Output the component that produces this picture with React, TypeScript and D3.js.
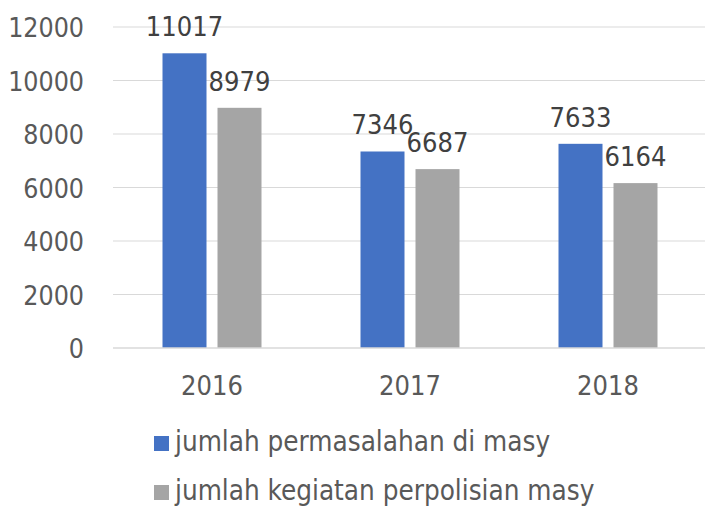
import React from 'react';
import * as d3 from 'd3';

const years = ['2016', '2017', '2018'];
const permasalahan = [11017, 7346, 7633];
const kegiatan = [8979, 6687, 6164];
const seriesNames = ['jumlah permasalahan di masy', 'jumlah kegiatan perpolisian masy'];
const seriesColors = ['#4472c4', '#a5a5a5'];
const yTicks = [0, 2000, 4000, 6000, 8000, 10000, 12000];

const W = 705;
const H = 506;
const font = '"DejaVu Sans Condensed", "DejaVu Sans", sans-serif';
const textColor = '#595959';
const fs = 27;

export default function App() {
  const x = d3.scaleBand().domain(years).range([113, 707]);
  const y = d3.scaleLinear().domain([0, 12000]).range([348, 27]);
  const barW = 44;
  const gap = 11;
  const series = [permasalahan, kegiatan];

  return (
    <svg width={W} height={H} style={{ position: 'absolute', left: 0, top: 0 }} fontFamily={font}>
      <rect width={W} height={H} fill="#fff" />
      {yTicks.map(t => (
        <g key={t}>
          {t > 0 && <line x1={113} x2={705} y1={y(t)} y2={y(t)} stroke="#d9d9d9" strokeWidth={1} />}
          <text x={84} y={y(t) + 10} textAnchor="end" fontSize={26.5} fill={textColor}>{t}</text>
        </g>
      ))}
      {years.map((yr, i) => {
        const c = x(yr)! + x.bandwidth() / 2;
        return (
          <g key={yr}>
            {series.map((s, j) => {
              const bx = c - barW - gap / 2 + j * (barW + gap);
              return (
                <g key={j}>
                  <rect x={bx} y={y(s[i])} width={barW} height={y(0) - y(s[i])} fill={seriesColors[j]} />
                  <text x={bx + barW / 2} y={y(s[i]) - 17} textAnchor="middle" fontSize={fs} fill="#404040">{s[i]}</text>
                </g>
              );
            })}
            <text x={c} y={395} textAnchor="middle" fontSize={fs} fill={textColor}>{yr}</text>
          </g>
        );
      })}
      <line x1={113} x2={705} y1={y(0)} y2={y(0)} stroke="#d9d9d9" strokeWidth={1.5} />
      {seriesNames.map((n, i) => (
        <g key={n}>
          <rect x={154} y={436 + i * 49} width={15} height={15} fill={seriesColors[i]} />
          <text x={175} y={451 + i * 49} fontSize={27.6} fill={textColor}>{n}</text>
        </g>
      ))}
    </svg>
  );
}
